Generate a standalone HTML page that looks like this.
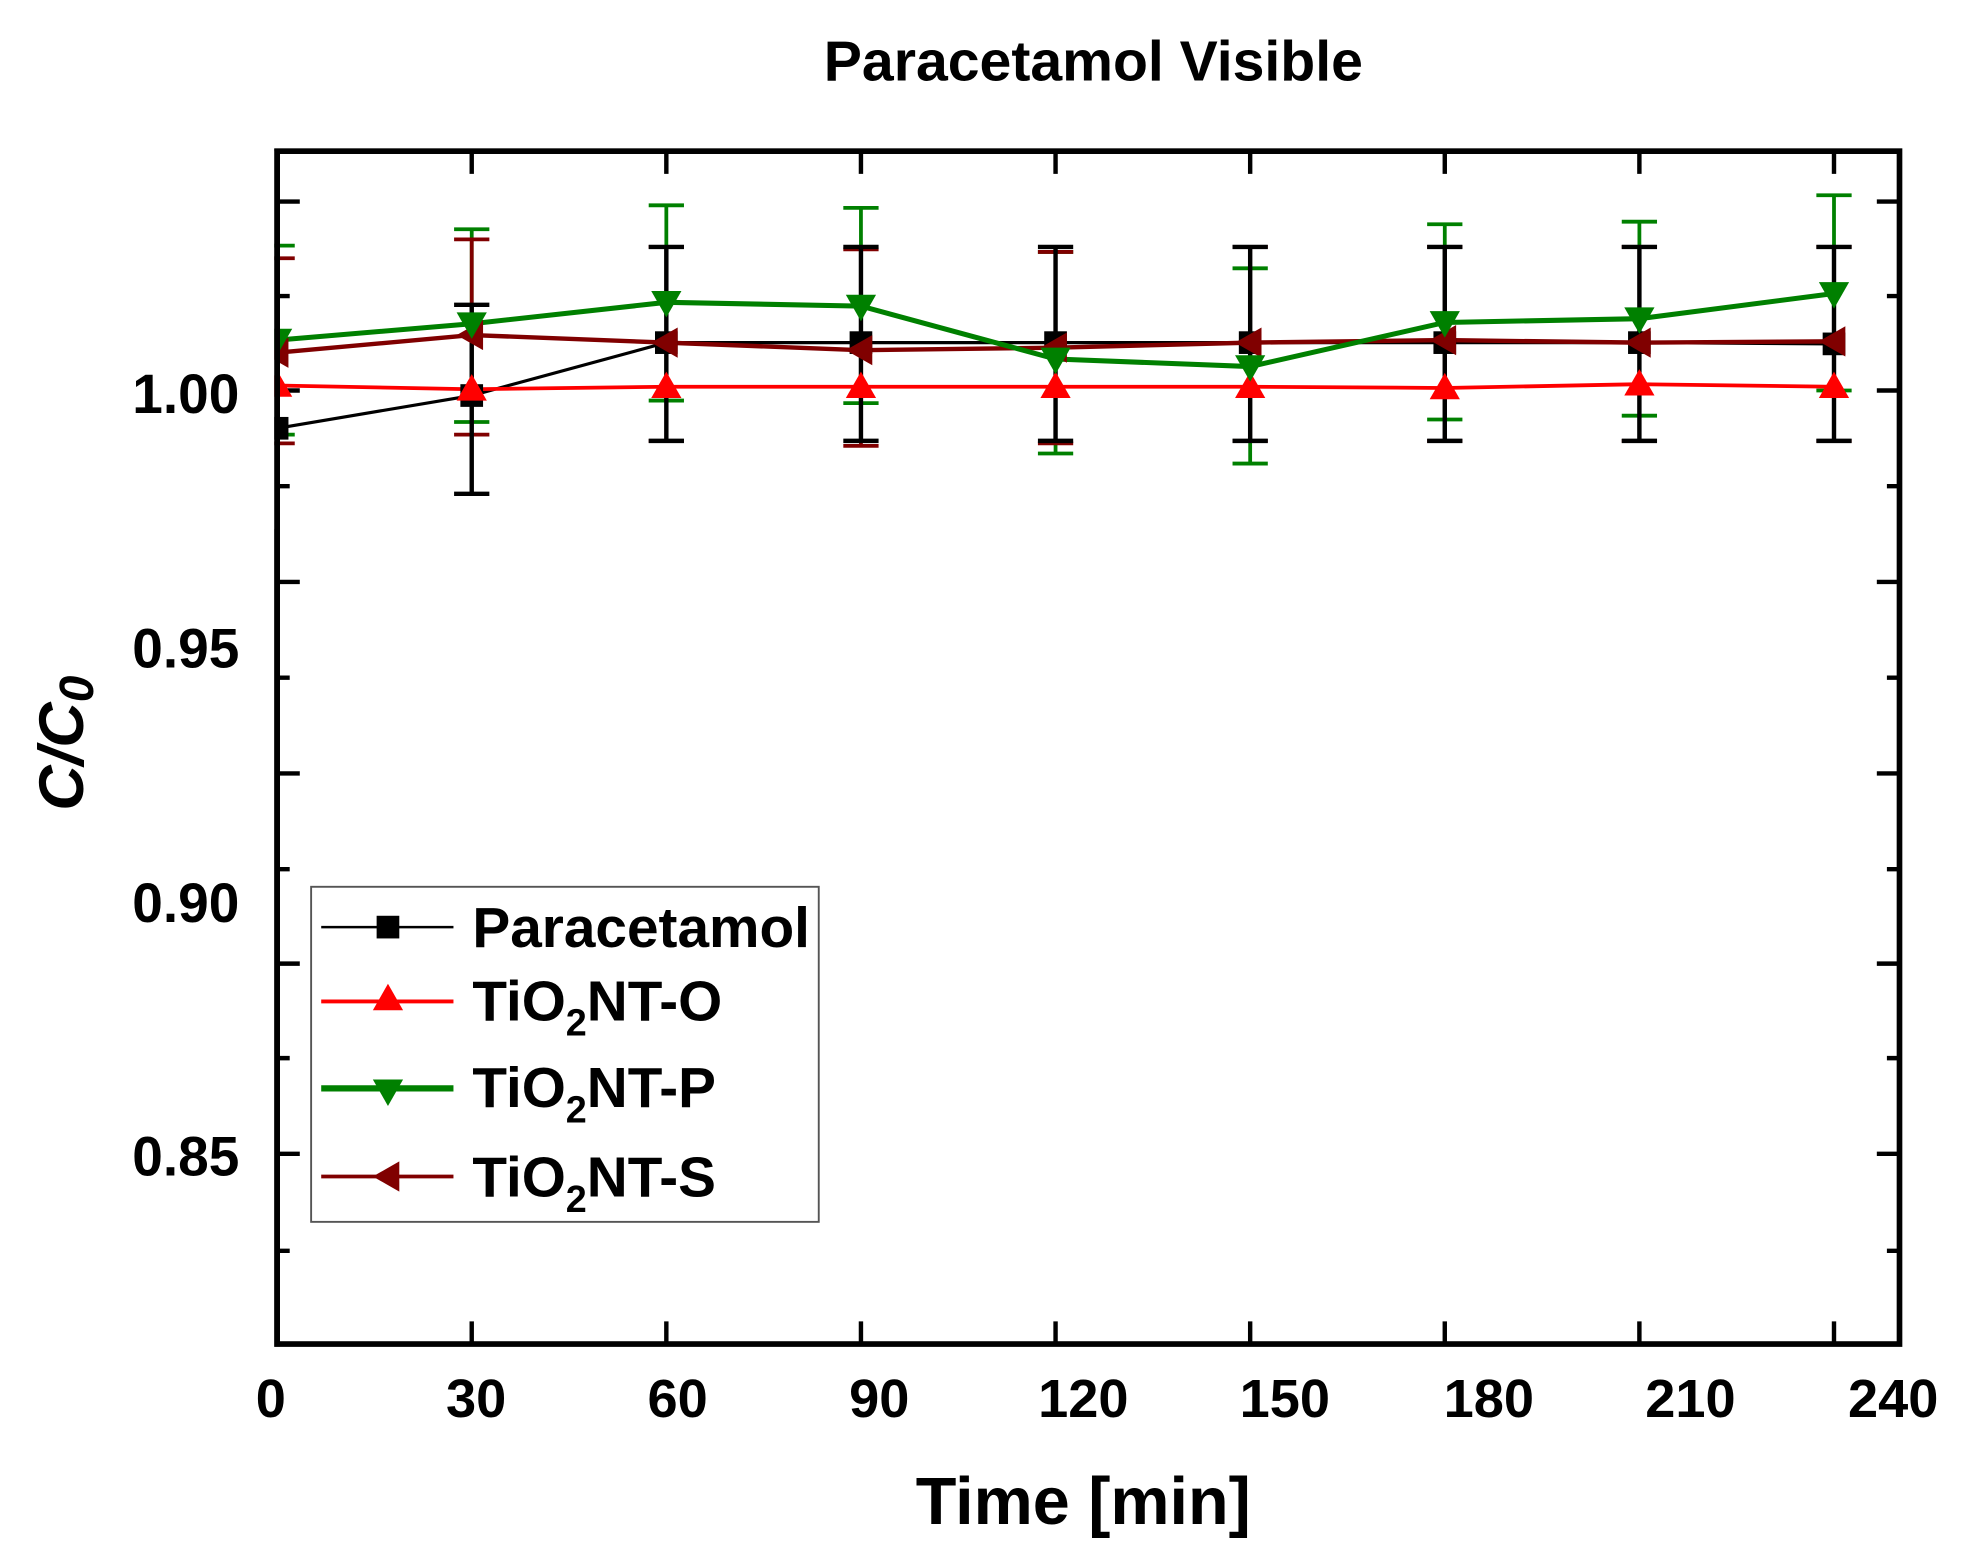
<!DOCTYPE html>
<html><head><meta charset="utf-8"><style>
html,body{margin:0;padding:0;background:#fff;}
svg{display:block;font-family:"Liberation Sans",Arial,sans-serif;font-weight:bold;}
</style></head><body>
<svg width="1965" height="1566" viewBox="0 0 1560 1243.2" preserveAspectRatio="none" xmlns="http://www.w3.org/2000/svg">
<defs>
<rect id="sq" x="-9" y="-9" width="18" height="18" fill="#000"/>
<polygon id="up" points="0,-12 -12,9 12,9" fill="#ff0000"/>
<polygon id="dn" points="0,12 -12,-9 12,-9" fill="#008000"/>
<polygon id="lt" points="-12,0 9,-12 9,12" fill="#800000"/>
</defs>
<rect width="1560" height="1243.2" fill="#fff"/>
<text x="868" y="64" text-anchor="middle" font-size="45" textLength="428" lengthAdjust="spacingAndGlyphs">Paracetamol Visible</text>

<!-- ticks -->
<g stroke="#000" stroke-width="3.5" fill="none">
<path d="M220,160h18M220,235h10M220,310h18M220,386h10M220,462h18M220,538h10M220,614h18M220,690h10M220,765h18M220,840h10M220,916h18M220,993h10"/>
<path d="M1508,160h-18M1508,235h-10M1508,310h-18M1508,386h-10M1508,462h-18M1508,538h-10M1508,614h-18M1508,690h-10M1508,765h-18M1508,840h-10M1508,916h-18M1508,993h-10"/>
<path d="M374.5,120v18M529,120v18M683.5,120v18M838,120v18M992.5,120v18M1147,120v18M1301.5,120v18M1456,120v18"/>
<path d="M374.5,1067v-18M529,1067v-18M683.5,1067v-18M838,1067v-18M992.5,1067v-18M1147,1067v-18M1301.5,1067v-18M1456,1067v-18"/>
</g>

<!-- error bars green & brown -->
<g stroke="#008000" stroke-width="3" fill="none">
<path d="M220,195V345M206,195h28M206,345h28 M374.5,182V335M360.5,182h28M360.5,335h28 M529,163V318M515,163h28M515,318h28 M683.5,165V320M669.5,165h28M669.5,320h28 M838,200V360M824,200h28M824,360h28 M992.5,213V368M978.5,213h28M978.5,368h28 M1147,178V333M1133,178h28M1133,333h28 M1301.5,176V330M1287.5,176h28M1287.5,330h28 M1456,155V310M1442,155h28M1442,310h28"/>
</g>
<g stroke="#800000" stroke-width="3" fill="none">
<path d="M220,205V352M206,205h28M206,352h28 M374.5,190V345M360.5,190h28M360.5,345h28 M529,196V350M515,196h28M515,350h28 M683.5,198V354M669.5,198h28M669.5,354h28 M838,200V352M824,200h28M824,352h28 M992.5,196V350M978.5,196h28M978.5,350h28 M1147,196V350M1133,196h28M1133,350h28 M1301.5,196V350M1287.5,196h28M1287.5,350h28 M1456,196V350M1442,196h28M1442,350h28"/>
</g>

<!-- lines -->
<polyline fill="none" stroke="#000" stroke-width="2.5" points="220,340 374.5,314 529,272 683.5,272 838,272 992.5,272 1147,272 1301.5,272 1456,273"/>
<polyline fill="none" stroke="#ff0000" stroke-width="3" points="220,306 374.5,309 529,307 683.5,307 838,307 992.5,307 1147,308 1301.5,305 1456,307"/>
<polyline fill="none" stroke="#800000" stroke-width="3.5" points="220,280 374.5,266 529,272 683.5,278 838,276 992.5,272 1147,270 1301.5,272 1456,271"/>
<polyline fill="none" stroke="#008000" stroke-width="4" points="220,270 374.5,257 529,240 683.5,243 838,285 992.5,291 1147,256 1301.5,253 1456,233"/>

<!-- black error bars -->
<g stroke="#000" stroke-width="3.5" fill="none">
<path d="M374.5,242V392M360.5,242h28M360.5,392h28 M529,196V350M515,196h28M515,350h28 M683.5,196V350M669.5,196h28M669.5,350h28 M838,196V350M824,196h28M824,350h28 M992.5,196V350M978.5,196h28M978.5,350h28 M1147,196V350M1133,196h28M1133,350h28 M1301.5,196V350M1287.5,196h28M1287.5,350h28 M1456,196V350M1442,196h28M1442,350h28"/>
</g>

<!-- markers -->
<use href="#sq" x="220" y="340"/><use href="#sq" x="374.5" y="314"/><use href="#sq" x="529" y="272"/><use href="#sq" x="683.5" y="272"/><use href="#sq" x="838" y="272"/><use href="#sq" x="992.5" y="272"/><use href="#sq" x="1147" y="272"/><use href="#sq" x="1301.5" y="272"/><use href="#sq" x="1456" y="273"/>
<use href="#up" x="220" y="306"/><use href="#up" x="374.5" y="309"/><use href="#up" x="529" y="307"/><use href="#up" x="683.5" y="307"/><use href="#up" x="838" y="307"/><use href="#up" x="992.5" y="307"/><use href="#up" x="1147" y="308"/><use href="#up" x="1301.5" y="305"/><use href="#up" x="1456" y="307"/>
<use href="#lt" x="220" y="280"/><use href="#lt" x="374.5" y="266"/><use href="#lt" x="529" y="272"/><use href="#lt" x="683.5" y="278"/><use href="#lt" x="838" y="276"/><use href="#lt" x="992.5" y="272"/><use href="#lt" x="1147" y="270"/><use href="#lt" x="1301.5" y="272"/><use href="#lt" x="1456" y="271"/>
<use href="#dn" x="220" y="270"/><use href="#dn" x="374.5" y="257"/><use href="#dn" x="529" y="240"/><use href="#dn" x="683.5" y="243"/><use href="#dn" x="838" y="285"/><use href="#dn" x="992.5" y="291"/><use href="#dn" x="1147" y="256"/><use href="#dn" x="1301.5" y="253"/><use href="#dn" x="1456" y="233"/>

<!-- plot frame -->
<rect x="220" y="120" width="1288" height="947" fill="none" stroke="#000" stroke-width="4.5"/>

<!-- white cover left of axis for markers overflow -->
<rect x="150" y="120" width="67.7" height="300" fill="#fff"/>
<line x1="220" y1="118" x2="220" y2="1069" stroke="#000" stroke-width="4.5"/>

<!-- y labels -->
<g font-size="44" text-anchor="end">
<text x="190" y="328" textLength="85" lengthAdjust="spacingAndGlyphs">1.00</text>
<text x="190" y="530" textLength="85" lengthAdjust="spacingAndGlyphs">0.95</text>
<text x="190" y="732" textLength="85" lengthAdjust="spacingAndGlyphs">0.90</text>
<text x="190" y="933" textLength="85" lengthAdjust="spacingAndGlyphs">0.85</text>
</g>
<!-- x labels -->
<g font-size="43" text-anchor="middle">
<text x="215" y="1125">0</text>
<text x="378" y="1125">30</text>
<text x="538" y="1125">60</text>
<text x="698" y="1125">90</text>
<text x="860" y="1125">120</text>
<text x="1020" y="1125">150</text>
<text x="1182" y="1125">180</text>
<text x="1342" y="1125">210</text>
<text x="1503" y="1125">240</text>
</g>
<text x="860" y="1210" text-anchor="middle" font-size="53" textLength="266" lengthAdjust="spacingAndGlyphs">Time [min]</text>
<text transform="translate(66,590) rotate(-90)" text-anchor="middle" font-size="50" font-style="italic">C/C<tspan font-size="38" dy="8">0</tspan></text>

<!-- legend -->
<rect x="247" y="704" width="403" height="266" fill="#fff" stroke="#555" stroke-width="1.5"/>
<line x1="255" y1="736" x2="360" y2="736" stroke="#000" stroke-width="2"/>
<use href="#sq" x="308" y="736"/>
<line x1="255" y1="795" x2="360" y2="795" stroke="#ff0000" stroke-width="3"/>
<use href="#up" x="308" y="793"/>
<line x1="255" y1="864" x2="360" y2="864" stroke="#008000" stroke-width="5"/>
<use href="#dn" x="308" y="866"/>
<line x1="255" y1="934" x2="360" y2="934" stroke="#800000" stroke-width="3"/>
<use href="#lt" x="308" y="934"/>
<g font-size="45">
<text x="375" y="752" textLength="268" lengthAdjust="spacingAndGlyphs">Paracetamol</text>
<text x="375" y="810">TiO<tspan font-size="30" dy="12">2</tspan><tspan dy="-12">NT-O</tspan></text>
<text x="375" y="879">TiO<tspan font-size="30" dy="12">2</tspan><tspan dy="-12">NT-P</tspan></text>
<text x="375" y="950">TiO<tspan font-size="30" dy="12">2</tspan><tspan dy="-12">NT-S</tspan></text>
</g>
</svg>
</body></html>
